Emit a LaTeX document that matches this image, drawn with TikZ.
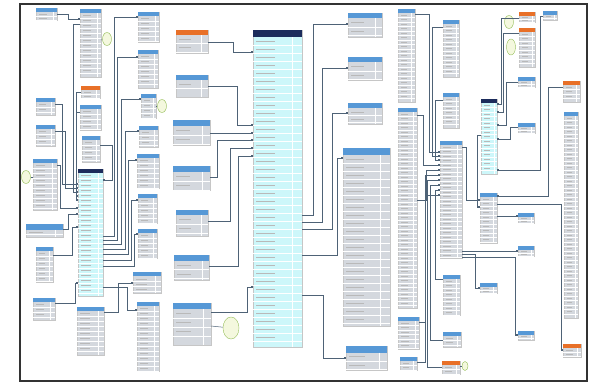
\documentclass[tikz,border=0pt]{standalone}
\usetikzlibrary{arrows.meta,shapes.geometric}
\definecolor{hdBlue}{RGB}{86,152,214}
\definecolor{hdOrange}{RGB}{232,112,40}
\definecolor{hdNavy}{RGB}{28,44,92}
\definecolor{bdGray}{RGB}{212,216,222}
\definecolor{bdCyan}{RGB}{205,247,250}
\definecolor{lnkCol}{RGB}{78,98,118}
\definecolor{noteFill}{RGB}{244,248,222}
\definecolor{noteLine}{RGB}{150,190,90}
% one table: name, x1, y1, x2, y2, header colour, body colour, row height
\newcommand{\tbl}[8]{%
  \node[tblbox, fill=#7, minimum width={(#4-#2)*1pt}, minimum height={(#5-#3)*1pt}] (#1) at (#2,#3) {};
  \pgfmathsetmacro\hh{min(7,max(4,0.16*(#4-#2)))}
  \fill[#6] (#1.north west) rectangle ([yshift=-\hh pt]#1.north east);
  \pgfmathtruncatemacro\nrows{max(1,(#5-#3-\hh)/#8)}
  \foreach \ri in {1,...,\nrows} {
    \draw[rowline] (#2,{#3+\hh+\ri*#8}) -- (#4,{#3+\hh+\ri*#8});
    \fill[txtbar] ({#2+2.5},{#3+\hh+(\ri-0.5)*#8-0.4}) rectangle ++({(#4-#2)*0.4},0.8);
  }
  \draw[rowline] ({#4-(#4-#2)*0.2},{#3+\hh}) -- ({#4-(#4-#2)*0.2},#5);
}
\begin{document}
\begin{tikzpicture}[x=1pt, y=-1pt,
  tblbox/.style={draw=gray!45, line width=0.2pt, inner sep=0pt, outer sep=0pt, anchor=north west},
  rowline/.style={draw=white, line width=0.3pt},
  txtbar/.style={fill=gray!55},
  link/.style={draw=lnkCol, line width=0.6pt, -{Square[length=1.8pt,width=1.8pt]}},
  tie/.style={draw=lnkCol, line width=0.5pt},
  note/.style={ellipse, draw=noteLine, fill=noteFill, line width=0.4pt, inner sep=0pt, minimum width=9pt, minimum height=13pt}
]
\useasboundingbox (0,0) rectangle (594,383);
\draw[line width=1.3pt, black!80] (20,4) rectangle (587,381);

% left area
\tbl{tA}{36}{8}{57}{20}{hdBlue}{bdGray}{4}
\tbl{tB}{80}{9}{101}{77}{hdBlue}{bdGray}{5}
\tbl{tC}{81}{86}{100}{98}{hdOrange}{bdGray}{4}
\tbl{tD}{80}{105}{101}{130}{hdBlue}{bdGray}{5}
\tbl{tD2}{82}{136}{100}{162}{hdBlue}{bdGray}{5}
\tbl{tE}{36}{98}{55}{115}{hdBlue}{bdGray}{5}
\tbl{tF}{36}{125}{55}{146}{hdBlue}{bdGray}{5}
\tbl{tE2}{33}{159}{57}{210}{hdBlue}{bdGray}{5}
\tbl{tN2}{78}{169}{103}{296}{hdNavy}{bdCyan}{5}
\tbl{tT2}{26}{224}{63}{237}{hdBlue}{bdGray}{4}
\tbl{tL1}{36}{247}{53}{282}{hdBlue}{bdGray}{5}
\tbl{tL2}{33}{298}{55}{320}{hdBlue}{bdGray}{5}
\tbl{tL3}{77}{307}{104}{355}{hdBlue}{bdGray}{5}
\tbl{tG}{138}{12}{159}{42}{hdBlue}{bdGray}{5}
\tbl{tH}{138}{50}{158}{88}{hdBlue}{bdGray}{5}
\tbl{tI}{141}{94}{156}{118}{hdBlue}{bdGray}{5}
\tbl{tJ}{139}{126}{158}{147}{hdBlue}{bdGray}{5}
\tbl{tJ2}{137}{154}{159}{188}{hdBlue}{bdGray}{5}
\tbl{tJ3}{138}{194}{157}{223}{hdBlue}{bdGray}{5}
\tbl{tJ4}{138}{229}{157}{258}{hdBlue}{bdGray}{5}
\tbl{tJ5}{133}{272}{161}{293}{hdBlue}{bdGray}{5}
\tbl{tJ6}{137}{302}{159}{371}{hdBlue}{bdGray}{5}
\node[note] (elB) at (107,39) {};
\node[note] (elI) at (162,106) {};
\node[note] (elE2) at (26,177) {};

% middle
\tbl{tK}{176}{30}{208}{53}{hdOrange}{bdGray}{8.5}
\tbl{tL}{176}{75}{208}{97}{hdBlue}{bdGray}{8.5}
\tbl{tM}{173}{120}{210}{145}{hdBlue}{bdGray}{9}
\tbl{tT}{173}{166}{210}{190}{hdBlue}{bdGray}{9}
\tbl{tU}{176}{210}{208}{236}{hdBlue}{bdGray}{9}
\tbl{tV}{174}{255}{209}{280}{hdBlue}{bdGray}{9}
\tbl{tW}{173}{303}{211}{345}{hdBlue}{bdGray}{9}
\tbl{tN}{253}{30}{302}{347}{hdNavy}{bdCyan}{8}
\tbl{tO}{348}{13}{382}{37}{hdBlue}{bdGray}{8.5}
\tbl{tP}{348}{57}{382}{80}{hdBlue}{bdGray}{8.5}
\tbl{tQ}{348}{103}{382}{124}{hdBlue}{bdGray}{7}
\tbl{tR}{343}{148}{390}{326}{hdBlue}{bdGray}{8}
\tbl{tS}{346}{346}{387}{370}{hdBlue}{bdGray}{8.5}
\node[note, minimum width=16pt, minimum height=22pt] (elW) at (231,328) {};

% right area
\tbl{tX}{398}{9}{415}{102}{hdBlue}{bdGray}{4.5}
\tbl{tAA}{398}{108}{417}{308}{hdBlue}{bdGray}{4.5}
\tbl{tAB}{398}{317}{419}{349}{hdBlue}{bdGray}{4.5}
\tbl{tAC}{400}{357}{417}{370}{hdBlue}{bdGray}{4.5}
\tbl{tY}{443}{20}{459}{77}{hdBlue}{bdGray}{4.5}
\tbl{tZ}{443}{93}{459}{128}{hdBlue}{bdGray}{4.5}
\tbl{tAL}{440}{141}{462}{258}{hdBlue}{bdGray}{4.5}
\tbl{tAP}{443}{275}{460}{315}{hdBlue}{bdGray}{4.5}
\tbl{tAR}{443}{332}{461}{347}{hdBlue}{bdGray}{4.5}
\tbl{tAT}{442}{361}{460}{374}{hdOrange}{bdGray}{4.5}
\tbl{tAD}{481}{99}{497}{174}{hdNavy}{bdCyan}{4.5}
\tbl{tAM}{480}{193}{497}{243}{hdBlue}{bdGray}{4.5}
\tbl{tAQ}{480}{283}{497}{293}{hdBlue}{bdGray}{3}
\tbl{tAE}{519}{12}{535}{22}{hdOrange}{bdGray}{3}
\tbl{tAF}{519}{28}{535}{67}{hdOrange}{bdGray}{4.5}
\tbl{tAH}{518}{77}{535}{87}{hdBlue}{bdGray}{3}
\tbl{tAH2}{518}{123}{535}{133}{hdBlue}{bdGray}{3}
\tbl{tAN}{518}{213}{534}{223}{hdBlue}{bdGray}{3}
\tbl{tAO}{518}{246}{534}{256}{hdBlue}{bdGray}{3}
\tbl{tAS}{518}{331}{534}{340}{hdBlue}{bdGray}{3}
\tbl{tAG}{543}{11}{557}{20}{hdBlue}{bdGray}{3}
\tbl{tAI}{563}{81}{580}{102}{hdOrange}{bdGray}{4.5}
\tbl{tAJ}{564}{112}{578}{318}{hdBlue}{bdGray}{4.5}
\tbl{tAK}{563}{344}{581}{357}{hdOrange}{bdGray}{4}
\node[note] (elAE) at (509,22) {};
\node[note, minimum height=16pt] (elAF) at (511,47) {};
\node[note, minimum width=6pt, minimum height=9pt] (elAT) at (465,366) {};

% links, left
\draw[link] (tA.east|-0,14) -- ++(11,0) |- (tB.west|-0,19);
\draw[link] (tB.west|-0,24) -- ++(-7,0) |- (tN2.west|-0,192);
\draw[link] (tE.east|-0,104) -- ++(7,0) |- (tN2.west|-0,184);
\draw[link] (tF.east|-0,131) -- ++(10,0) |- (tN2.west|-0,188);
\draw[link] (tC.west|-0,92) -- ++(-5,0) |- (tN2.west|-0,196);
\draw[link] (tD.west|-0,112) -- ++(-4,0) |- (tN2.west|-0,200);
\draw[link] (tE2.east|-0,165) -- ++(3,0) |- (tN2.west|-0,208);
\draw[link] (tT2.east|-0,229) -- ++(5,0) |- (tN2.west|-0,214);
\draw[link] (tL1.east|-0,255) -- ++(19,0) |- (tN2.west|-0,227);
\draw[link] (tL2.east|-0,303) -- ++(20,0) |- (tN2.west|-0,283);
\draw[link] (tD2.east|-0,145) -- ++(12,0) |- (tN2.east|-0,180);
\draw[link] (tN2.east|-0,236) -- ++(11,0) |- (tG.west|-0,17);
\draw[link] (tN2.east|-0,240) -- ++(14,0) |- (tH.west|-0,57);
\draw[link] (tN2.east|-0,244) -- ++(18,0) |- (tI.west|-0,99);
\draw[link] (tN2.east|-0,249) -- ++(22,0) |- (tJ.west|-0,131);
\draw[link] (tN2.east|-0,254) -- ++(25,0) |- (tJ2.west|-0,160);
\draw[link] (tN2.east|-0,260) -- ++(28,0) |- (tJ3.west|-0,200);
\draw[link] (tN2.east|-0,266) -- ++(31,0) |- (tJ4.west|-0,234);
\draw[link] (tL3.east|-0,312) -- ++(14,0) |- (tJ5.west|-0,283);
\draw[link] (tN2.east|-0,287) -- ++(24,0) |- (tJ6.west|-0,310);
\draw[tie] (tB.east|-0,40) -- (elB);
\draw[tie] (tI.east|-0,106) -- (elI);
\draw[tie] (elE2) -- (tE2.west|-0,177);

% links, middle
\draw[link] (tK.east|-0,42) -- ++(25,0) |- (tN.west|-0,52);
\draw[link] (tL.east|-0,86) -- ++(29,0) |- (tN.west|-0,125);
\draw[link] (tM.east|-0,133) -- (tN.west|-0,133);
\draw[link] (tT.east|-0,177) -- ++(7,0) |- (tN.west|-0,140);
\draw[link] (tU.east|-0,221) -- ++(22,0) |- (tN.west|-0,148);
\draw[link] (tV.east|-0,266) -- ++(29,0) |- (tN.west|-0,156);
\draw[link] (tW.east|-0,312) -- ++(36,0) |- (tN.west|-0,287);
\draw[tie] (tW.east|-0,326) -- (elW);
\draw[link] (tN.east|-0,215) -- ++(11,0) |- (tO.west|-0,24);
\draw[link] (tN.east|-0,222) -- ++(20,0) |- (tP.west|-0,68);
\draw[link] (tN.east|-0,229) -- ++(30,0) |- (tQ.west|-0,113);
\draw[link] (tN.east|-0,255) -- ++(35,0) |- (tR.west|-0,158);
\draw[link] (tN.east|-0,295) -- ++(21,0) |- (tS.west|-0,358);

% links, right
\draw[link] (tX.east|-0,14) -- ++(14,0) |- (tAL.west|-0,152);
\draw[link] (tY.west|-0,27) -- ++(-11,0) |- (tAL.west|-0,156);
\draw[link] (tZ.west|-0,100) -- ++(-8,0) |- (tAL.west|-0,160);
\draw[link] (tAA.east|-0,115) -- ++(6,0) |- (tAL.west|-0,165);
\draw[link] (tAA.east|-0,200) -- ++(9,0) |- (tAL.west|-0,170);
\draw[link] (tAB.east|-0,322) -- ++(6,0) |- (tAL.west|-0,175);
\draw[link] (tAT.west|-0,367) -- ++(-15,0) |- (tAL.west|-0,180);
\draw[link] (tAR.west|-0,340) -- ++(-13,0) |- (tAL.west|-0,185);
\draw[link] (tAP.west|-0,279) -- ++(-8,0) |- (tAL.west|-0,190);
\draw[link] (tAC.east|-0,362) -- ++(8,0) |- (tAL.west|-0,195);
\draw[link] (tAL.east|-0,147) -- ++(4,0) |- (tAM.west|-0,200);
\draw[link] (tAD.west|-0,135) -- ++(-4,0) |- (tAM.west|-0,207);
\draw[link] (tAL.east|-0,251) -- (tAO.west|-0,251);
\draw[link] (tAL.east|-0,254) -- ++(13,0) |- (tAQ.west|-0,288);
\draw[link] (tAL.east|-0,257) -- ++(53,0) |- (tAS.west|-0,335);
\draw[link] (tAM.east|-0,216) -- (tAN.west|-0,216);
\draw[link] (tAM.east|-0,204) -- ++(64,0) |- (tAK.west|-0,350);
\draw[link] (tAE.west|-0,18) -- ++(-18,0) |- (tAD.east|-0,104);
\draw[link] (tAF.west|-0,33) -- ++(-16,0) |- (tAD.east|-0,112);
\draw[link] (tAH.west|-0,82) -- ++(-12,0) |- (tAD.east|-0,125);
\draw[link] (tAH2.west|-0,127) -- ++(-8,0) |- (tAD.east|-0,139);
\draw[link] (tAG.west|-0,16) -- ++(-3,0) |- (tAD.east|-0,170);
\draw[link] (tAI.west|-0,87) -- ++(-15,0) |- (tAM.east|-0,196);
\draw[tie] (tAT.east|-0,366) -- (elAT);
\end{tikzpicture}
\end{document}
